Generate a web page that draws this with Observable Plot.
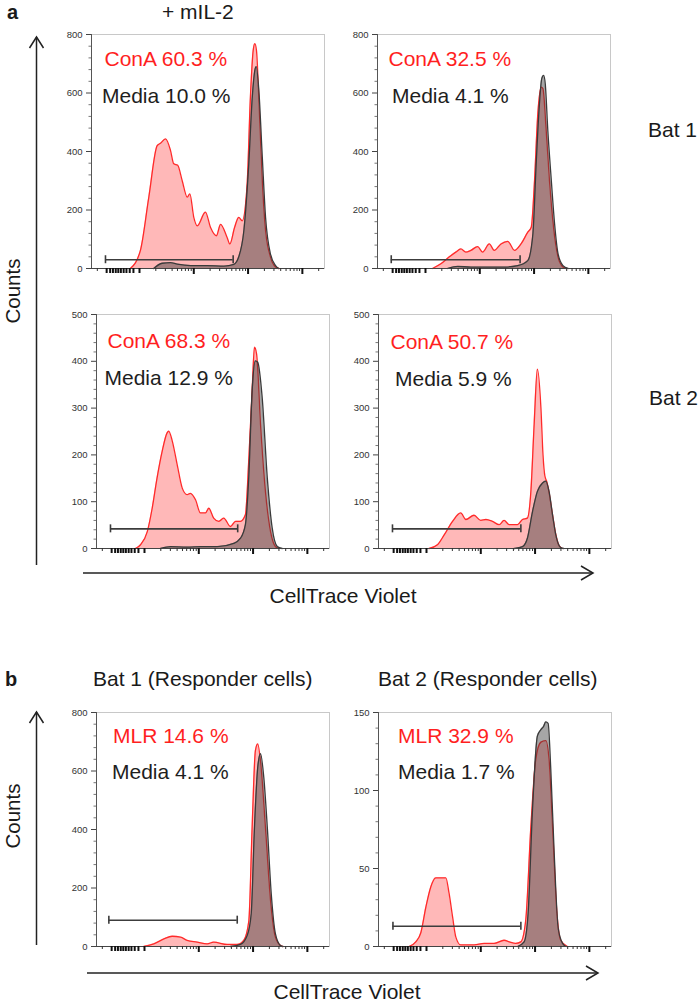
<!DOCTYPE html>
<html>
<head>
<meta charset="utf-8">
<script src="https://cdn.jsdelivr.net/npm/d3@7"></script>
<script src="https://cdn.jsdelivr.net/npm/@observablehq/plot@0.6"></script>
<style>
html,body{margin:0;padding:0;background:#fff;}
#fig{position:relative;width:700px;height:1003px;overflow:hidden;background:#fff;font-family:"Liberation Sans",Arial,sans-serif;}
#fig > svg{position:absolute;}
</style>
</head>
<body>
<div id="fig"></div>
<script>
// ---------------- DATA ----------------
// x: position along the CellTrace Violet axis (percent of axis width), y: counts
const a1ConA = [[16.7,0],[21.0,62],[24.6,244],[28.2,420],[29.6,428],[31.8,443],[33.9,404],[35.3,358],[37.0,353],[38.9,301],[41.1,244],[42.2,255],[43.9,175],[45.4,146],[48.9,193],[51.1,140],[53.6,112],[55.4,151],[58.2,106],[59.4,84],[61.4,140],[63.2,175],[64.7,163],[66.8,288],[68.2,586],[69.4,746],[70.1,769],[70.8,746],[71.8,586],[73.3,300],[74.7,130],[76.8,40],[79.0,5],[80.4,0]];
const a1Media = [[26.7,0],[30.3,18],[33.9,20],[36.8,15],[42.5,10],[49.6,10],[56.8,8],[61.1,14],[63.2,40],[65.4,130],[67.5,358],[69.0,586],[70.1,677],[70.7,690],[71.8,612],[73.3,381],[74.7,175],[76.8,50],[79.0,10],[80.4,0]];
const a2ConA = [[23.6,0],[27.2,16],[30.7,39],[33.6,56],[35.8,67],[37.9,56],[40.1,62],[43.0,75],[45.1,56],[48.0,84],[50.1,62],[53.0,84],[55.9,93],[58.8,62],[61.6,84],[64.5,124],[66.0,141],[67.4,301],[68.8,529],[70.3,620],[71.0,615],[72.4,472],[73.8,301],[75.7,130],[77.5,39],[79.6,5],[81.0,0]];
const a2Media = [[30.0,0],[34.4,7],[40.1,5],[54.5,5],[60.2,10],[64.5,27],[66.7,119],[68.1,358],[69.5,563],[70.5,649],[71.3,660],[72.0,631],[73.1,472],[74.6,301],[76.0,153],[77.5,50],[79.6,10],[81.8,0]];
const a3ConA = [[16.7,0],[18.9,8],[21.8,36],[23.9,86],[26.0,151],[28.2,208],[30.3,247],[31.0,251],[32.5,230],[34.6,180],[36.8,129],[38.9,115],[40.3,118],[42.5,104],[44.6,76],[46.8,76],[48.2,86],[50.3,65],[52.5,58],[54.6,65],[57.5,47],[59.7,58],[61.8,58],[63.9,72],[65.4,194],[66.8,337],[67.8,430],[68.7,416],[70.4,265],[72.5,122],[74.7,36],[76.8,4],[78.2,0]];
const a3Media = [[27.5,0],[31.8,4],[38.9,3],[44.6,4],[51.8,4],[58.9,11],[61.8,22],[63.9,51],[65.4,158],[66.8,337],[68.2,401],[69.2,398],[71.1,323],[73.3,151],[75.4,44],[77.6,4],[79.7,0]];
const a4ConA = [[21.7,0],[25.3,8],[28.2,29],[31.8,58],[35.3,76],[37.5,62],[41.0,71],[43.9,60],[46.1,62],[48.9,58],[51.8,51],[53.9,60],[56.1,51],[59.7,51],[61.8,62],[63.9,65],[65.4,122],[66.8,265],[68.2,383],[69.7,301],[70.6,200],[71.4,155],[72.3,142],[73.2,120],[74.7,72],[76.1,30],[77.5,6],[79.0,0]];
const a4Media = [[58.2,0],[61.8,4],[63.9,22],[66.1,79],[68.2,122],[70.4,140],[71.8,144],[73.2,122],[74.7,72],[76.1,29],[78.2,2],[79.5,0]];
const b1MLR = [[20.3,0],[24.6,9],[28.9,26],[32.5,35],[36.1,32],[38.9,21],[43.2,15],[47.5,9],[50.3,15],[56.1,7],[60.4,7],[63.2,21],[65.4,89],[66.8,408],[68.2,670],[69.2,693],[70.4,633],[72.5,408],[74.7,157],[76.8,32],[79.0,3],[80.0,0]];
const b1Media = [[57.5,0],[61.8,7],[64.7,38],[66.4,112],[67.8,408],[69.2,613],[70.4,659],[71.8,578],[73.3,408],[75.0,180],[76.8,43],[79.0,3],[80.0,0]];
const b2MLR = [[13.1,0],[16.0,3],[18.2,9],[20.3,25],[22.4,38],[24.6,44],[26.7,44],[28.9,44],[30.3,34],[31.8,19],[33.2,6],[35.3,1],[41.0,1],[45.3,2],[49.6,2],[53.9,4],[56.1,3],[58.9,2],[61.1,3],[63.2,17],[65.4,77],[67.5,120],[69.7,131],[71.8,132],[73.2,120],[74.7,77],[76.5,23],[78.2,4],[81.1,0]];
const b2Media = [[59.7,0],[62.5,3],[64.2,21],[66.1,88],[68.2,135],[69.7,139],[70.8,141],[71.8,144],[72.8,143],[73.9,115],[75.4,60],[77.1,12],[79.0,2],[80.5,0]];

// gates: [x start, x end, counts level]
const gates = [[6.0,60.8,30],[5.9,61.2,30],[6.0,60.6,42],[6.0,61.1,42],[5.3,60.4,90],[6.2,61.1,13]];
const stimSeries = [a1ConA, a2ConA, a3ConA, a4ConA, b1MLR, b2MLR];
const mediaSeries = [a1Media, a2Media, a3Media, a4Media, b1Media, b2Media];
const stimLabels = ["ConA 60.3 %", "ConA 32.5 %", "ConA 68.3 %", "ConA 50.7 %", "MLR 14.6 %", "MLR 32.9 %"];
const mediaLabels = ["Media 10.0 %", "Media 4.1 %", "Media 12.9 %", "Media 5.9 %", "Media 4.1 %", "Media 1.7 %"];
const yMaxes = [800, 800, 500, 500, 800, 150];
const yMajorSteps = [200, 200, 100, 100, 200, 50];

// x-axis tick marks (no labels)
const xTickCluster = [6.5, 8, 9.2, 10.4, 11.5, 12.6, 13.8, 15, 16.4, 18, 20.6];
const xTickMajor = [43.9, 67.2, 90.5];
const xTickMinor = [2.5, 27.6, 31.7, 34.6, 36.9, 38.7, 40.3, 41.6, 42.8, 50.9, 55.0, 57.9, 60.2, 62.0, 63.6, 64.9, 66.1, 74.2, 78.3, 81.2, 83.5, 85.3, 86.9, 88.2, 89.3, 97.5];

// outer texts
const panelLetters = ["a", "b"];
const columnTitles = ["+ mIL-2", "Bat 1 (Responder cells)", "Bat 2 (Responder cells)"];
const rowTitles = ["Bat 1", "Bat 2"];
const axisTitleY = "Counts";
const axisTitleX = "CellTrace Violet";

// ---------------- LAYOUT ----------------
const W = 273, H = 252, ML = 35, MR = 5, MT = 6, MB = 12;
const layout = [
  {left: 91, top: 34, dx1: 13, dy1: 31, dx2: 10.5, dy2: 68},
  {left: 377, top: 34, dx1: 11, dy1: 31, dx2: 14.5, dy2: 68},
  {left: 96, top: 314, dx1: 11, dy1: 33, dx2: 8, dy2: 70},
  {left: 378, top: 314, dx1: 12, dy1: 34, dx2: 16.5, dy2: 71},
  {left: 96, top: 712, dx1: 16.5, dy1: 30, dx2: 15.5, dy2: 66},
  {left: 378, top: 712, dx1: 19.5, dy1: 30, dx2: 19.5, dy2: 66}
];

const FONT = '"Liberation Sans", Arial, sans-serif';
const fig = document.getElementById("fig");
const toRows = pts => pts.map(([x, y]) => ({x, y}));
const blank = () => "";

function drawPanel(i) {
  const stim = toRows(stimSeries[i]);
  const media = toRows(mediaSeries[i]);
  const [gx1, gx2, gy] = gates[i];
  const yMax = yMaxes[i], step = yMajorSteps[i];
  const yMajor = d3.range(0, yMax + 1, step);
  const yMinor = d3.range(0, yMax + 1, step / 5).filter(v => v % step !== 0);
  const L = layout[i];
  const svg = Plot.plot({
    width: W, height: H,
    marginLeft: ML, marginRight: MR, marginTop: MT, marginBottom: MB,
    style: {fontFamily: FONT, fontSize: "9.5px", background: "transparent", overflow: "visible"},
    x: {domain: [0, 100], label: null},
    y: {domain: [0, yMax], label: null},
    marks: [
      Plot.areaY(stim, {x: "x", y: "y", curve: "monotone-x", fill: "#ff0000", fillOpacity: 0.28}),
      Plot.lineY(stim, {x: "x", y: "y", curve: "monotone-x", stroke: "#ff2a2a", strokeWidth: 1.3}),
      Plot.areaY(media, {x: "x", y: "y", curve: "monotone-x", fill: "#3a3a3a", fillOpacity: 0.45}),
      Plot.lineY(media, {x: "x", y: "y", curve: "monotone-x", stroke: "#3a3a3a", strokeWidth: 1.3}),
      Plot.frame({stroke: "#c8c8c8"}),
      Plot.ruleX([0], {stroke: "#555", strokeWidth: 1}),
      Plot.ruleY([0], {stroke: "#444", strokeWidth: 1.2}),
      Plot.ruleY([{x1: gx1, x2: gx2, y: gy}], {x1: "x1", x2: "x2", y: "y", stroke: "#3c3c3c", strokeWidth: 1.6}),
      Plot.ruleX([gx1, gx2], {x: d => d, y1: () => gy, y2: () => gy, insetTop: -4, insetBottom: -4, stroke: "#3c3c3c", strokeWidth: 1.6}),
      Plot.axisY({ticks: yMajor, tickSize: 5, tickPadding: 4, label: null, stroke: "#444", fill: "#333"}),
      Plot.axisY({ticks: yMinor, tickSize: 2.5, tickFormat: blank, label: null, stroke: "#777"}),
      Plot.axisX({ticks: xTickCluster, tickSize: 5, tickFormat: blank, label: null, stroke: "#111", strokeWidth: 2}),
      Plot.axisX({ticks: xTickMajor, tickSize: 6, tickFormat: blank, label: null, stroke: "#111", strokeWidth: 2}),
      Plot.axisX({ticks: xTickMinor, tickSize: 3, tickFormat: blank, label: null, stroke: "#333", strokeWidth: 1}),
      Plot.text([stimLabels[i]], {text: d => d, frameAnchor: "top-left", dx: L.dx1, dy: L.dy1, lineAnchor: "bottom", textAnchor: "start", fill: "#ff1f1f", fontSize: 21}),
      Plot.text([mediaLabels[i]], {text: d => d, frameAnchor: "top-left", dx: L.dx2, dy: L.dy2, lineAnchor: "bottom", textAnchor: "start", fill: "#1e1e1e", fontSize: 21})
    ]
  });
  svg.style.position = "absolute";
  svg.style.left = (L.left - ML) + "px";
  svg.style.top = (L.top - MT) + "px";
  fig.appendChild(svg);
}

for (let i = 0; i < 6; i++) drawPanel(i);

// ---------------- OVERLAY: axis arrows and titles ----------------
const ov = d3.select(fig).append("svg")
  .attr("width", 700).attr("height", 1003)
  .style("left", "0px").style("top", "0px").style("pointer-events", "none")
  .attr("font-family", FONT);

function arrowUp(x, y0, y1) {
  ov.append("line").attr("x1", x).attr("x2", x).attr("y1", y0).attr("y2", y1).attr("stroke", "#222").attr("stroke-width", 1.5);
  ov.append("polyline").attr("points", `${x-7},${y0+11} ${x},${y0} ${x+7},${y0+11}`).attr("fill", "none").attr("stroke", "#222").attr("stroke-width", 1.5);
}
function arrowRight(y, x0, x1) {
  ov.append("line").attr("x1", x0).attr("x2", x1).attr("y1", y).attr("y2", y).attr("stroke", "#222").attr("stroke-width", 1.5);
  ov.append("polyline").attr("points", `${x1-12},${y-7} ${x1},${y} ${x1-12},${y+7}`).attr("fill", "none").attr("stroke", "#222").attr("stroke-width", 1.5);
}
arrowUp(36.5, 37, 565);
arrowUp(36.5, 712, 945);
arrowRight(573, 83, 593);
arrowRight(973, 87, 598);

function txt(s, x, y, opts = {}) {
  const t = ov.append("text").attr("x", x).attr("y", y).text(s)
    .attr("font-size", opts.size || 21).attr("fill", opts.fill || "#1a1a1a")
    .attr("text-anchor", opts.anchor || "start");
  if (opts.bold) t.attr("font-weight", "bold");
  if (opts.rotate) t.attr("transform", `rotate(-90 ${x} ${y})`);
  return t;
}
txt(panelLetters[0], 7, 19, {bold: true, size: 20});
txt(panelLetters[1], 5, 686, {bold: true, size: 20});
txt(columnTitles[0], 162, 19);
txt(columnTitles[1], 93, 686);
txt(columnTitles[2], 378, 686);
txt(rowTitles[0], 648, 137);
txt(rowTitles[1], 649, 405);
txt(axisTitleY, 20, 291, {anchor: "middle", rotate: true, size: 20.5});
txt(axisTitleY, 20, 816, {anchor: "middle", rotate: true, size: 20.5});
txt(axisTitleX, 343, 603, {anchor: "middle"});
txt(axisTitleX, 347, 999, {anchor: "middle"});
</script>
</body>
</html>
